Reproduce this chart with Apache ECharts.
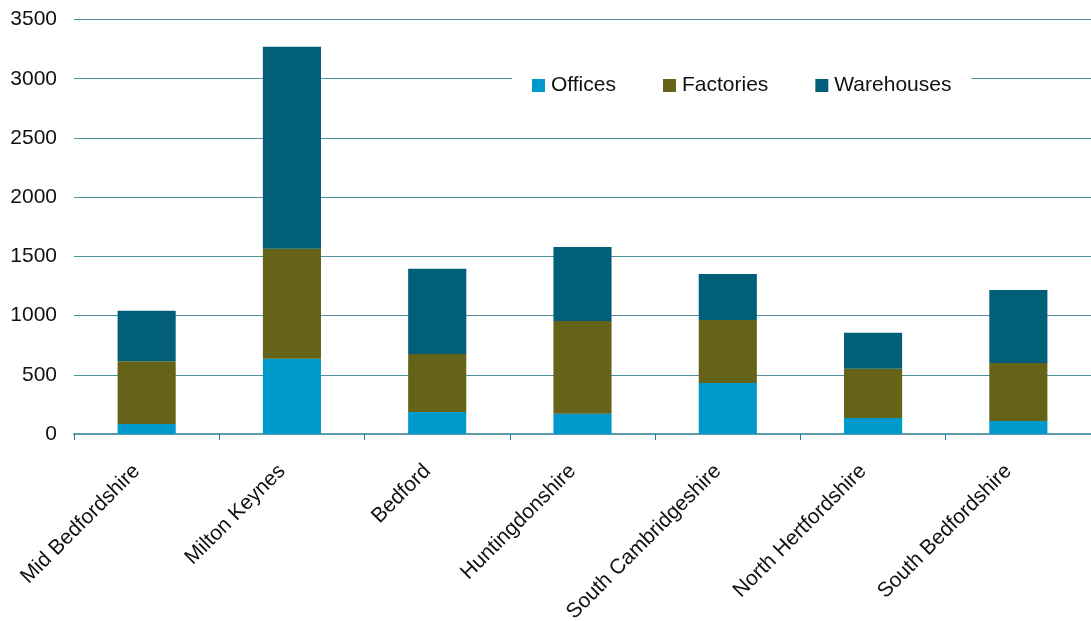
<!DOCTYPE html>
<html><head><meta charset="utf-8">
<script src="https://cdn.jsdelivr.net/npm/echarts@6/dist/echarts.min.js"></script>
<style>html,body{margin:0;padding:0;background:#fff}#c{width:1091px;height:621px}</style>
</head><body><div id="c"></div>
<script>
const categories = ["Mid Bedfordshire","Milton Keynes","Bedford","Huntingdonshire","South Cambridgeshire","North Hertfordshire","South Bedfordshire"];
const offices = [85, 635, 185, 170, 430, 135, 110];
const factories = [530, 930, 490, 785, 533, 415, 490];
const warehouses = [425, 1705, 720, 625, 388, 305, 615];
const yTicks = {min: 0, max: 3500, interval: 500};

const chart = echarts.init(document.getElementById('c'), null, {renderer: 'canvas'});
const font = 'Liberation Sans, Arial, sans-serif';
function bar(name, data, color) {
  return {name, type: 'bar', stack: 'total', data, barWidth: '40%',
    itemStyle: {color}, emphasis: {disabled: true}};
}
chart.setOption({
  animation: false,
  grid: {left: 74, right: 0, top: 19.5, bottom: 187, containLabel: false, outerBoundsMode: 'none'},
  legend: {
    top: 73, left: 512, itemWidth: 13, itemHeight: 13, itemGap: 47, icon: 'rect',
    backgroundColor: '#fff', padding: [2, 20, 2, 20],
    textStyle: {fontFamily: font, fontSize: 21, color: '#111', padding: [0, 0, 0, 1]},
    data: ['Offices', 'Factories', 'Warehouses']
  },
  xAxis: {
    type: 'category', data: categories,
    axisLine: {lineStyle: {color: '#5C9CAE', width: 2}},
    axisTick: {show: true, length: 6, lineStyle: {color: '#2E7A94'}},
    axisLabel: {rotate: 45, fontFamily: font, fontSize: 21, color: '#111', margin: 24, interval: 0,
      padding: [0, 14, 0, 0]}
  },
  yAxis: {
    type: 'value', min: yTicks.min, max: yTicks.max, interval: yTicks.interval,
    axisLine: {show: false}, axisTick: {show: false},
    splitLine: {lineStyle: {color: '#4E8FA0', width: 1.2}},
    axisLabel: {fontFamily: font, fontSize: 21, color: '#111', margin: 17, formatter: v => String(v)}
  },
  series: [
    bar('Offices', offices, '#0099CC'),
    bar('Factories', factories, '#656317'),
    bar('Warehouses', warehouses, '#025F7A')
  ]
});
</script></body></html>
